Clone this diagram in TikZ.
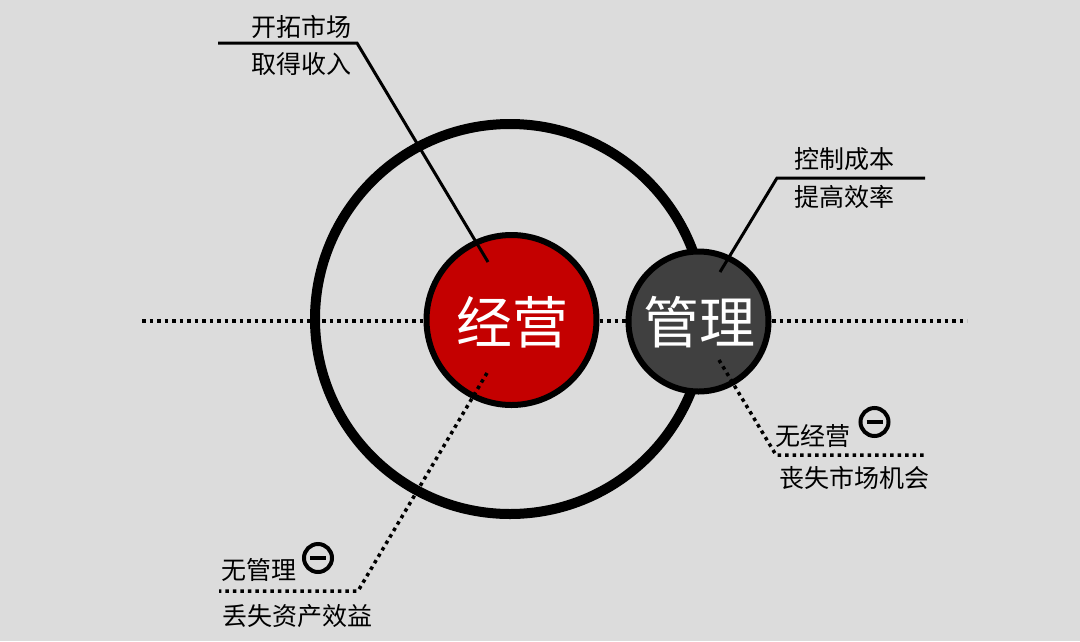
\documentclass[tikz,border=0pt]{standalone}
\usepackage{fontspec}
\newfontfamily\cjk{Noto Sans CJK SC}
\definecolor{bgcol}{RGB}{220,220,220}
\definecolor{redfill}{RGB}{196,0,0}
\definecolor{darkfill}{RGB}{64,64,64}
\begin{document}
\begin{tikzpicture}[x=1pt,y=-1pt,
  dotline/.style={line width=3.5pt, dash pattern=on 3.5pt off 4pt, black},
  solidlead/.style={line width=3pt, black, line join=miter},
  lbl/.style={font=\cjk\fontsize{25}{28}\selectfont, inner sep=0pt, text=black},
  bigtxt/.style={font=\cjk\fontsize{56}{60}\selectfont, text=white},
  minusc/.style={circle, draw=black, line width=4pt, minimum size=28pt, inner sep=0pt},
]
\useasboundingbox[fill=bgcol] (0,0) rectangle (1080,641);

% central dotted axis
\coordinate (axL) at (142,321);
\coordinate (axR) at (967,321);
\draw[dotline] (axL) -- (axR);

% big ring
\node[circle, draw=black, line width=10pt, minimum size=390pt, inner sep=0pt] (ring) at (510,319) {};

% red circle
\node[circle, draw=black, fill=redfill, line width=6pt, minimum size=170pt, inner sep=0pt] (jy) at (511.5,320) {};
\node[bigtxt] (jytxt) at (512,322) {经营};

% dark circle
\node[circle, draw=black, fill=darkfill, line width=6pt, minimum size=140pt, inner sep=0pt] (gl) at (698.5,321.5) {};
\node[bigtxt] (gltxt) at (699,322) {管理};

% top-left leader
\coordinate (tlA) at (218,43);
\coordinate (tlB) at (357,43);
\coordinate (tlC) at (488,262);
\draw[solidlead] (tlA) -- (tlB) -- (tlC);
\node[lbl] (t1) at (301,27) {开拓市场};
\node[lbl] (t2) at (301,64) {取得收入};

% top-right leader
\coordinate (trA) at (925,178);
\coordinate (trB) at (777,178);
\coordinate (trC) at (720,272);
\draw[solidlead] (trA) -- (trB) -- (trC);
\node[lbl] (t3) at (844,159) {控制成本};
\node[lbl] (t4) at (844,197) {提高效率};

% bottom-right leader
\coordinate (brA) at (719,360);
\coordinate (brB) at (776,455);
\coordinate (brC) at (927,455);
\draw[dotline] (brA) -- (brB) -- (brC);
\node[lbl] (t5) at (813,436) {无经营};
\node[minusc] (m1) at (874.5,422) {};
\draw[line width=4pt] ([xshift=-8pt]m1.center) -- ([xshift=8pt]m1.center);
\node[lbl] (t6) at (854,478) {丧失市场机会};

% bottom-left leader
\coordinate (blA) at (487,373);
\coordinate (blB) at (358,591);
\coordinate (blC) at (219,591);
\draw[dotline] (blA) -- (blB) -- (blC);
\node[lbl] (t7) at (259,570) {无管理};
\node[minusc] (m2) at (318,558) {};
\draw[line width=4pt] ([xshift=-8pt]m2.center) -- ([xshift=8pt]m2.center);
\node[lbl] (t8) at (297,616) {丢失资产效益};
\end{tikzpicture}
\end{document}
